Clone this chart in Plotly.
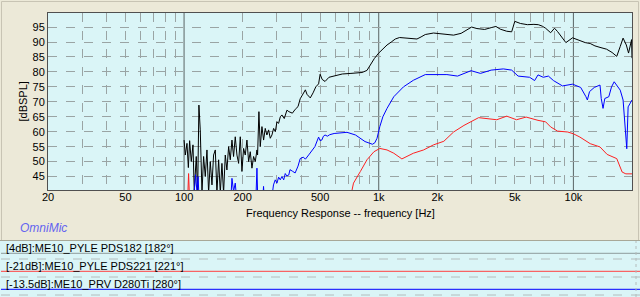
import plotly.graph_objects as go

# ---------------- data ----------------
blk_f = [100, 101.5, 103.5, 105.2, 106.8, 108.9, 111.1, 112.8, 115.5, 117.4, 119.2, 121.1, 123.6, 126, 128.5,
         131.1, 133.7, 136.3, 139.1, 141.8, 144.7, 147.5, 150.5, 153.5, 156.5, 159.6, 162.8, 166, 169.4,
         172.7, 176.2, 179.6, 183.2, 186.9, 190.6, 194.4, 198.3, 202.2, 206.2, 210.4, 214.6, 218.8, 223.2,
         227.6, 232.2, 236.8, 238.6, 242.4, 246.2, 251.2, 256.2, 261.2, 266.4, 271.8, 277.2, 282.8, 288.4,
         294.2, 300, 306, 312.2, 318.2, 327.2, 337.6, 345.6, 360, 372.6, 385, 395, 411, 420, 428, 445, 460,
         475, 491, 500, 512, 530, 555, 590, 650, 720, 780, 820, 870, 905, 950, 1000, 1050, 1103, 1160, 1216,
         1280, 1340, 1452, 1572, 1650, 1734, 1912, 2075, 2240, 2424, 2650, 2840, 3000, 3195, 3500, 3780,
         4000, 4209, 4545, 4818, 5000, 5340, 5800, 6270, 6600, 6920, 7200, 7640, 8000, 8290, 8610, 9150,
         9900, 10400, 10800, 11500, 12200, 12900, 13700, 14800, 15800, 16700, 17400, 18000, 18700, 19200,
         19900, 20000]
blk_db = [57.2, 52.2, 56.1, 48.0, 57.0, 50.0, 55.6, 40.0, 51.7, 39.5, 68.9, 60.6, 39.5, 51.7, 45.0, 53.9,
          39.5, 50.0, 42.2, 52.2, 53.9, 39.5, 50.6, 39.5, 49.4, 39.5, 52.2, 47.2, 55.0, 50.6, 57.2, 51.7,
          58.3, 52.2, 49.4, 58.3, 46.7, 54.4, 52.2, 57.2, 50.0, 53.3, 47.8, 51.7, 50.0, 53.9, 52.2, 66.7,
          55.0, 61.7, 57.2, 61.1, 58.9, 60.6, 57.8, 58.9, 61.1, 60.0, 63.3, 62.8, 65.0, 65.6, 64.4, 67.2,
          66.7, 66.2, 67.5, 68.4, 71.0, 72.9, 74.0, 72.5, 71.3, 73.0, 75.0, 76.0, 79.2, 77.5, 76.8, 78.2,
          78.6, 79.3, 79.5, 79.6, 79.8, 80.5, 82.5, 84.5, 86.3, 87.8, 89.0, 90.0, 91.0, 91.5, 91.4, 91.2,
          91.0, 91.7, 92.5, 93.0, 92.7, 92.4, 92.3, 92.9, 94.2, 95.0, 94.5, 94.2, 94.8, 95.2, 94.3, 93.6,
          93.4, 96.9, 96.2, 95.8, 95.9, 95.8, 95.3, 94.6, 93.1, 94.6, 93.5, 92.0, 89.8, 91.4, 90.9, 90.5,
          89.8, 89.5, 88.7, 88.2, 87.6, 86.5, 85.2, 88.5, 91.3, 89.0, 86.3, 90.8, 84.6, 85.0]

blu_f = [108, 112.8, 114.5, 116.5, 118, 119, 121, 174, 176.2, 179.6, 183.2, 186, 234, 236.8, 239, 254,
         256, 258, 285, 288, 294, 300, 306, 312, 318, 325, 331, 337, 345, 350, 360, 372, 385, 395, 410,
         420, 440, 455, 470, 491, 500, 510, 520, 530, 545, 560, 590, 687, 760, 850, 900, 928, 955, 980,
         1013, 1050, 1103, 1195, 1340, 1506, 1734, 2240, 2540, 2980, 3330, 3780, 4365, 4818, 5200, 5960,
         6320, 6580, 7000, 7440, 7900, 8790, 9900, 10900, 11600, 11800, 12100, 12800, 13700, 13900, 14200,
         14500, 15200, 15700, 16200, 17400, 18000, 18800, 19100, 19500, 20000]
blu_db = [38.0, 40.0, 45.6, 40.0, 45.0, 40.0, 38.0, 38.0, 44.4, 40.0, 42.8, 38.0, 38.0, 47.8, 38.0, 38.0,
          41.7, 38.0, 40.0, 42.2, 43.9, 42.8, 44.8, 43.9, 45.0, 43.9, 46.0, 45.2, 45.5, 47.3, 46.8, 46.2,
          48.5, 51.0, 51.5, 50.8, 52.5, 54.0, 55.0, 58.2, 57.0, 57.2, 58.5, 58.9, 58.5, 59.0, 59.4, 59.8,
          58.9, 56.7, 56.0, 55.8, 56.3, 57.8, 61.7, 65.0, 67.8, 71.7, 75.0, 77.2, 79.1, 79.1, 78.6, 80.4,
          79.5, 80.6, 81.0, 80.6, 78.6, 78.2, 77.1, 79.0, 78.2, 78.6, 77.1, 75.3, 75.9, 74.8, 71.7, 70.6,
          73.4, 74.8, 75.6, 71.1, 67.8, 71.1, 71.7, 75.0, 76.7, 73.9, 70.6, 54.3, 68.3, 69.4, 70.6]

red_f = [100, 104, 105.5, 107, 700, 742, 805, 870, 945, 1013, 1103, 1195, 1315, 1400, 1506, 1700, 1912,
         2160, 2424, 2740, 3260, 4040, 4545, 5100, 5720, 6580, 7200, 7640, 8290, 9350, 10000, 10800,
         12200, 13700, 14900, 16700, 17800, 18600, 20000]
red_db = [35.0, 35.0, 46.0, 35.0, 35.0, 42.8, 46.7, 50.6, 53.3, 54.4, 53.9, 52.8, 50.9, 51.7, 52.8, 53.9,
          55.6, 56.8, 59.9, 62.1, 64.7, 64.0, 65.2, 64.0, 64.9, 63.8, 63.3, 61.6, 60.2, 59.9, 59.3, 58.2,
          56.0, 54.9, 52.4, 51.0, 46.5, 45.9, 45.9]

series_names = ["[4dB]:ME10_PYLE PDS182 [182°]",
                "[-21dB]:ME10_PYLE PDS221 [221°]",
                "[-13.5dB]:ME10_PRV D280Ti [280°]"]
series_colors = ["#000000", "#FF2020", "#0000FF"]
legend_line_colors = ["#8E9C9C", "#FF4040", "#0000FF"]

x_label_vals = [20, 50, 100, 200, 500, 1000, 2000, 5000, 10000, 20000]
x_label_text = ["20", "50", "100", "200", "500", "1k", "2k", "5k", "10k", "20k"]
x_minor_vals = [30, 40, 50, 60, 70, 80, 90, 200, 300, 400, 500, 600, 700, 800, 900,
                2000, 3000, 4000, 5000, 6000, 7000, 8000, 9000]
x_decades = [100, 1000, 10000]
y_ticks = [45, 50, 55, 60, 65, 70, 75, 80, 85, 90, 95]

# ---------------- layout geometry ----------------
W, H = 640, 297
L, R, T, B = 48, 8, 13, 107
PW, PH = W - L - R, H - T - B


def xp(px):
    return (px - L) / PW


def yp(py):
    return (H - B - py) / PH


PAPER = "#ECE9D8"
PLOTBG = "#DAF5F7"
FONT = "Liberation Sans"

fig = go.Figure()
fig.add_trace(go.Scatter(x=blk_f, y=blk_db, mode="lines", line=dict(color=series_colors[0], width=1),
                         name=series_names[0], showlegend=False))
fig.add_trace(go.Scatter(x=blu_f, y=blu_db, mode="lines", line=dict(color=series_colors[2], width=1),
                         name=series_names[2], showlegend=False))
fig.add_trace(go.Scatter(x=red_f, y=red_db, mode="lines", line=dict(color=series_colors[1], width=1),
                         name=series_names[1], showlegend=False))

shapes = []
# solid decade grid lines
for d in x_decades:
    shapes.append(dict(type="line", xref="x", yref="paper", x0=d, x1=d, y0=0, y1=1,
                       line=dict(color="#5A6464", width=1), layer="below"))
# outer frame of the chart panel
shapes.append(dict(type="rect", xref="paper", yref="paper", x0=xp(1.5), x1=xp(638.5), y0=yp(240.5), y1=yp(1.5),
                   line=dict(color="#C8C4B4", width=1), layer="below"))
# legend band
shapes.append(dict(type="rect", xref="paper", yref="paper", x0=xp(0), x1=xp(640), y0=yp(297), y1=yp(241),
                   fillcolor=PLOTBG, line=dict(width=0), layer="below"))
shapes.append(dict(type="line", xref="paper", yref="paper", x0=xp(0), x1=xp(640), y0=yp(240.5), y1=yp(240.5),
                   line=dict(color="#A8A898", width=1)))
row_line_y = [253.3, 271.3, 289.3]
row_dash_y = [259, 277, 295]
row_text_y = [248, 266, 284]
for i in range(3):
    shapes.append(dict(type="line", xref="paper", yref="paper", x0=xp(1), x1=xp(640),
                       y0=yp(row_line_y[i]), y1=yp(row_line_y[i]),
                       line=dict(color=legend_line_colors[i], width=1)))
    shapes.append(dict(type="line", xref="paper", yref="paper", x0=xp(1), x1=xp(640),
                       y0=yp(row_dash_y[i]), y1=yp(row_dash_y[i]),
                       line=dict(color="#B4BCBC", width=1, dash="dash")))
shapes.append(dict(type="line", xref="paper", yref="paper", x0=xp(636), x1=xp(636), y0=yp(297), y1=yp(241),
                   line=dict(color="#B4BCBC", width=1, dash="dot")))

annotations = []
for i in range(3):
    annotations.append(dict(xref="paper", yref="paper", x=xp(4), y=yp(row_text_y[i]), xanchor="left",
                            yanchor="middle", text=series_names[i], showarrow=False,
                            font=dict(family=FONT, size=11, color="#000000")))
annotations.append(dict(xref="paper", yref="paper", x=xp(18), y=yp(228), xanchor="left", yanchor="middle",
                        text="<i>OmniMic</i>", showarrow=False,
                        font=dict(family=FONT, size=12, color="#6464F0")))
# axis titles
annotations.append(dict(xref="paper", yref="paper", x=0.5, y=yp(213), xanchor="center", yanchor="middle",
                        text="Frequency Response -- frequency [Hz]", showarrow=False,
                        font=dict(family=FONT, size=11, color="#000000")))
annotations.append(dict(xref="paper", yref="paper", x=xp(14), y=0.5, xanchor="left", yanchor="middle",
                        text="[dBSPL]", textangle=-90, showarrow=False,
                        font=dict(family=FONT, size=11, color="#000000")))

fig.update_layout(
    width=W, height=H,
    margin=dict(l=L, r=R, t=T, b=B, pad=0),
    paper_bgcolor=PAPER, plot_bgcolor=PLOTBG,
    font=dict(family=FONT, size=11, color="#000000"),
    showlegend=False,
    shapes=shapes, annotations=annotations,
    xaxis=dict(type="log", range=[1.30103, 4.30103], tickmode="array", tickvals=x_label_vals,
               ticktext=x_label_text, showgrid=False, ticks="", zeroline=False, ticklabelstandoff=-3,
               showline=True, linecolor="#505050", linewidth=1, mirror=True,
               minor=dict(tickmode="array", tickvals=x_minor_vals, showgrid=True, gridcolor="#9AA4A4",
                          griddash="dash", gridwidth=1, ticks=""),
               automargin=False),
    yaxis=dict(range=[40.5, 99.7], tickmode="array", tickvals=y_ticks, showgrid=True, gridcolor="#9AA4A4",
               griddash="dash", gridwidth=1, ticks="", zeroline=False,
               showline=True, linecolor="#505050", linewidth=1, mirror=True,
               automargin=False),
)

fig.write_html("out.html")
